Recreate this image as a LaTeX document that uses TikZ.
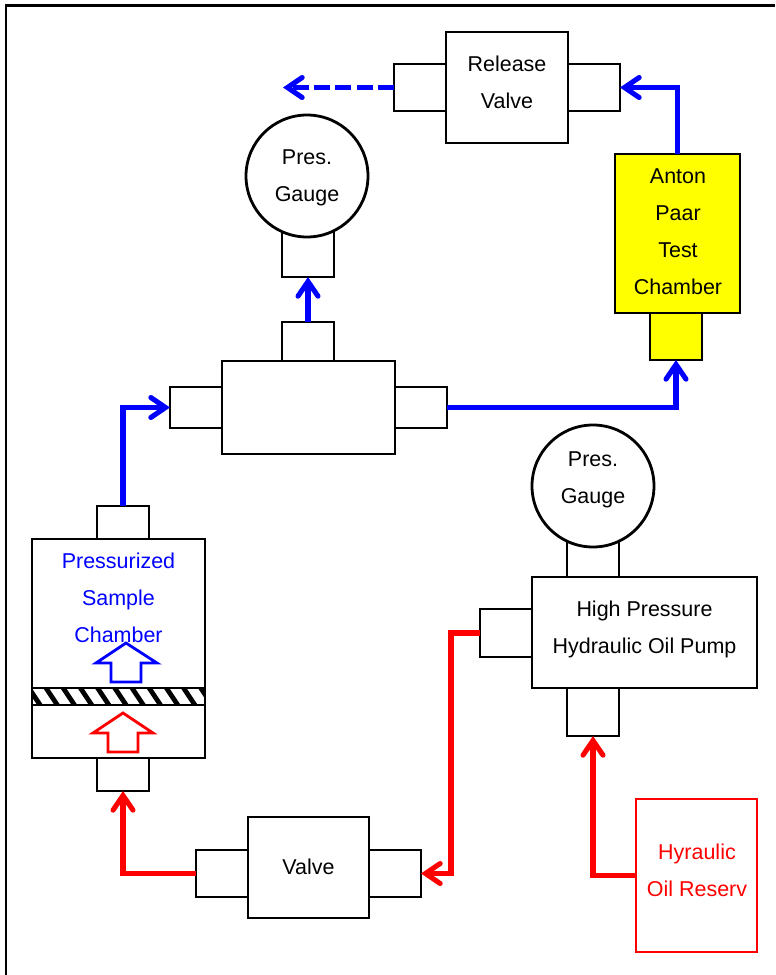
\documentclass[tikz,border=0pt]{standalone}
\usepackage{fontspec}
\setmainfont{Liberation Sans}
\usetikzlibrary{arrows.meta}
\definecolor{pureyellow}{RGB}{255,255,0}
\definecolor{pureblue}{RGB}{0,0,255}
\definecolor{purered}{RGB}{255,0,0}
\tikzset{
  part/.style={draw=black,line width=2.1pt,fill=white,inner sep=0pt,outer sep=0pt,rectangle},
  yellowpart/.style={part,fill=pureyellow},
  redpart/.style={part,draw=purered,line width=1.5pt},
  gauge/.style={part,circle,minimum size=91.5pt},
  lbl/.style={align=center,inner sep=0pt,font=\fontsize{16.1}{27.75}\selectfont},
  bluelbl/.style={lbl,text=pureblue},
  redlbl/.style={lbl,text=purered},
  flow/.style={line width=3.9pt,line cap=butt,-{Straight Barb[length=11pt,width=15pt,line width=3.8pt,line cap=round,line join=miter]}},
  blueflow/.style={flow,draw=pureblue},
  redflow/.style={flow,draw=purered},
  hollow/.style={line width=2.1pt,fill=white,line join=miter},
}
\newcommand{\pbox}[6][part]{\node[#1,minimum width={(#5-#3)*0.75pt},minimum height={(#6-#4)*0.75pt}] (#2) at ({(#3+#5)/2},{(#4+#6)/2}) {};}
\begin{document}
\begin{tikzpicture}[x=0.75pt,y=-0.75pt]
\useasboundingbox (0,0) rectangle (775,975);
% frame
\draw[line width=2.1pt] (6,975) -- (6,5.5) -- (775,5.5);
% release valve
\pbox{rl}{394}{64}{446}{111}
\pbox{rr}{568}{64}{620}{111}
\pbox{rv}{446}{32}{568}{143}
\node[lbl] (rvt) at (507,82.5) {Release\\Valve};
% gauge 1
\pbox{gp}{282}{225}{334}{277}
\node[gauge] (g) at (307,176) {};
\node[lbl] (gt) at (307,178) {Pres.\\Gauge};
% tee
\pbox{tt}{282}{322}{334}{361}
\pbox{tl}{170}{387}{222}{428}
\pbox{tr}{395}{387}{447}{428}
\pbox{tee}{222}{361}{395}{454}
% Anton Paar
\pbox[yellowpart]{ap}{650}{313}{702}{360}
\pbox[yellowpart]{an}{615}{154}{740}{313}
\node[lbl] (ant) at (678,231.5) {Anton\\Paar\\Test\\Chamber};
% gauge 2 and pump
\pbox{pg}{567}{530}{619}{577}
\node[gauge] (g2) at (593,486) {};
\node[lbl] (g2t) at (593,479.5) {Pres.\\Gauge};
\pbox{pl}{480}{609}{532}{657}
\pbox{pb}{567}{688}{619}{736}
\pbox{pump}{532}{577}{757}{688}
\node[lbl] (pumpt) at (644.5,629.5) {High Pressure\\Hydraulic Oil Pump};
% reservoir
\pbox[redpart]{res}{636}{799}{757}{952}
\node[redlbl] (rest) at (697,870.5) {Hyraulic\\Oil Reserv};
% sample chamber
\pbox{st}{97}{506}{149}{539}
\pbox{sb}{97}{758}{149}{791}
\pbox{sc}{32}{539}{205}{758}
\begin{scope}
\clip (32,688) rectangle (205,705);
\foreach \i in {0,...,11}
  \draw[line width=3.6pt] ({27.8+17.2*\i},686.5) -- ({40.8+17.2*\i},706);
\end{scope}
\draw[line width=2.1pt] (32,688) rectangle (205,705);
\node[bluelbl] (sct) at (118.5,598) {Pressurized\\Sample\\Chamber};
\draw[hollow,draw=pureblue] (126,643) -- (157,663) -- (141,663) -- (141,682) -- (111,682) -- (111,663) -- (96,663) -- cycle;
\draw[hollow,draw=purered] (123,713) -- (153,733) -- (138,733) -- (138,752) -- (108,752) -- (108,733) -- (93,733) -- cycle;
% valve
\pbox{vl}{196}{850}{248}{897}
\pbox{vr}{369}{850}{421}{897}
\pbox{v}{248}{817}{369}{918}
\node[lbl] (vt) at (308.5,867) {Valve};
% connectors
\coordinate (out) at (283,87.5);
\draw[blueflow,dash pattern=on 12pt off 4pt] (rl.west) -- (out);
\draw[blueflow] (an.north) |- (rr.east);
\draw[blueflow] (tt.north) -- (gp.south);
\draw[blueflow] (st.north) |- (tl.west);
\draw[blueflow] (tr.east) -| (ap.south);
\draw[redflow] (vl.west) -| (sb.south);
\draw[redflow] (pl.west) -- ++(-29,0) |- (vr.east);
\draw[redflow] (res.west) -| (pb.south);
\end{tikzpicture}
\end{document}
